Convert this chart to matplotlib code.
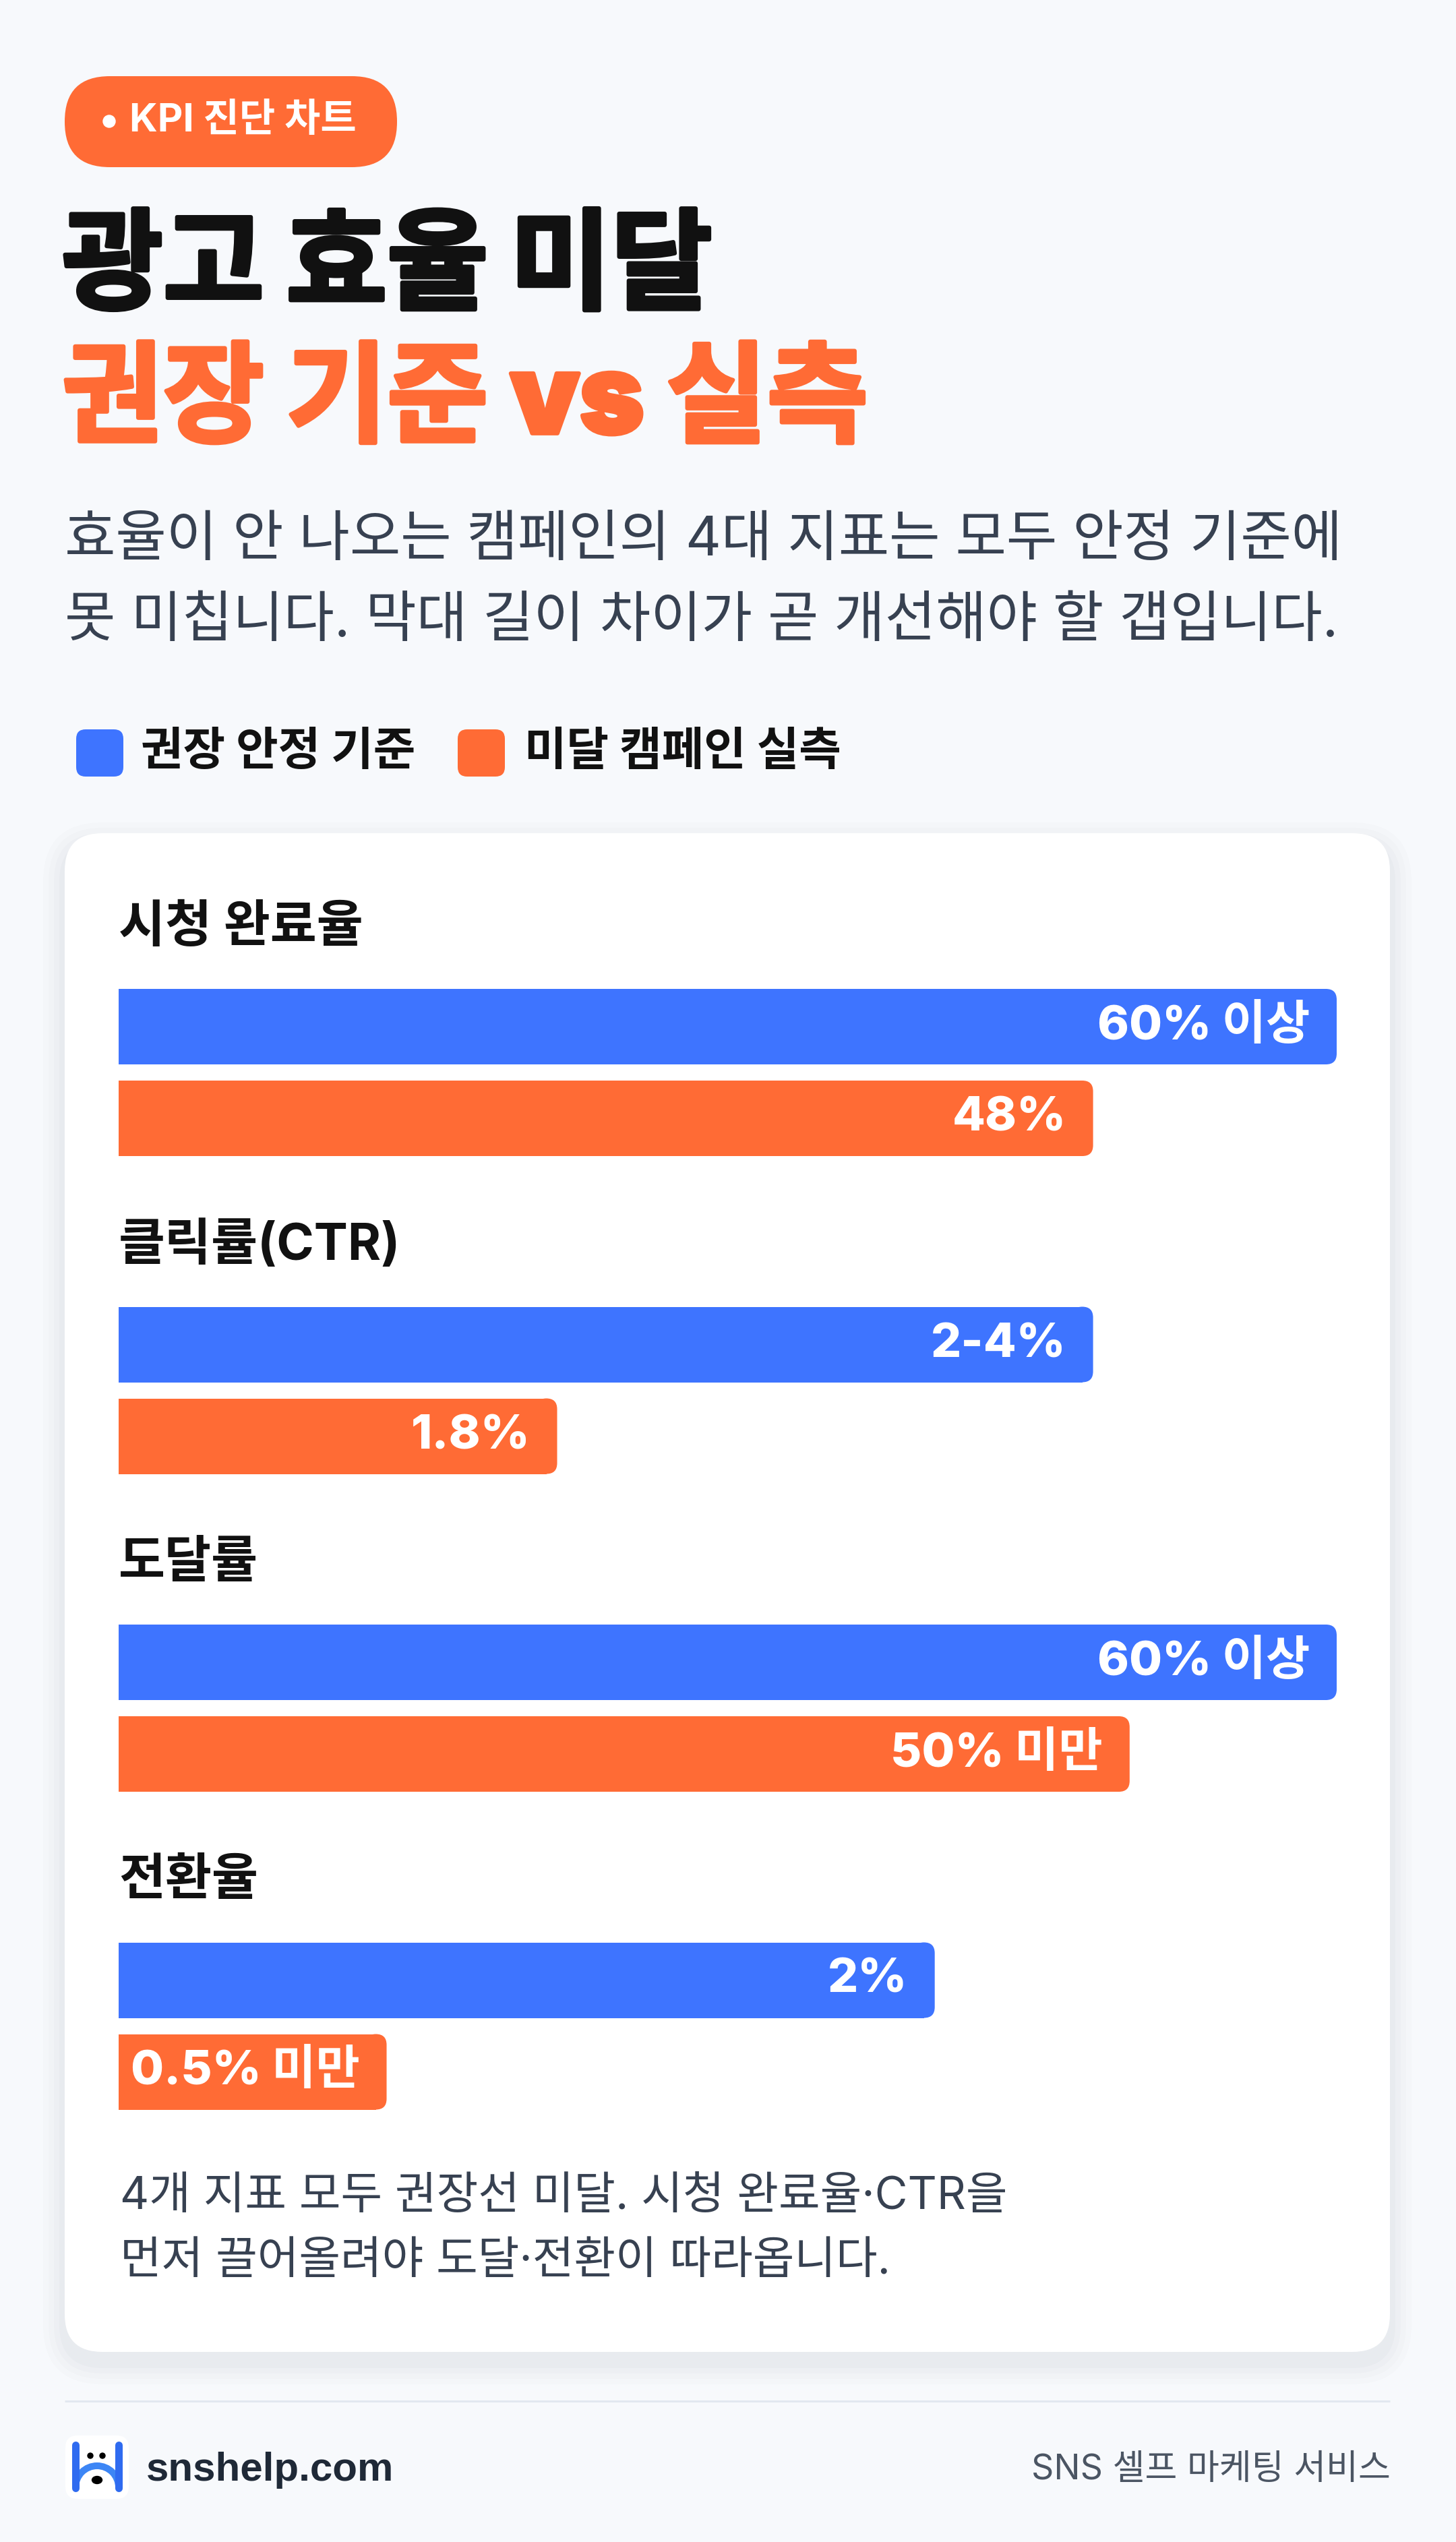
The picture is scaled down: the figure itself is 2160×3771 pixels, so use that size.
import matplotlib.pyplot as plt
import matplotlib.patheffects as pe
from matplotlib.patches import FancyBboxPatch, Circle, Ellipse, Arc

W, H = 2160, 3771
DPI = 100

plt.rcParams['font.family'] = ['Inter', 'Noto Sans CJK KR', 'DejaVu Sans']

# ---- data ----
metrics = ['시청 완료율', '클릭률(CTR)', '도달률', '전환율']
standard_len = [100, 80, 100, 67]     # bar length, % of track
actual_len = [80, 36, 83, 22]
standard_txt = ['60% 이상', '2-4%', '60% 이상', '2%']
actual_txt = ['48%', '1.8%', '50% 미만', '0.5% 미만']
legend_names = ['권장 안정 기준', '미달 캠페인 실측']

BG = '#F7F9FC'
BLUE = '#3E74FF'
ORANGE = '#FF6B35'
INK = '#111111'
BODY = '#374151'


def pt(v):
    # pixel size -> points
    return v * 72 / DPI


fig = plt.figure(figsize=(W / DPI, H / DPI), dpi=DPI)
fig.patch.set_facecolor(BG)
ax = fig.add_axes([0, 0, 1, 1])
ax.set_xlim(0, W)
ax.set_ylim(H, 0)
ax.axis('off')


def rbox(a, x, y, w, h, r, color, **kw):
    p = FancyBboxPatch((x, y), w, h, boxstyle=f'round,pad=0,rounding_size={r}',
                       fc=color, ec='none', **kw)
    a.add_patch(p)
    return p


# badge
rbox(ax, 96, 113, 493, 135, 67, ORANGE)
ax.add_patch(Circle((162, 180), 9, color='white'))
ax.text(192, 180, 'KPI 진단 차트', fontsize=pt(58), weight='bold', color='white', va='center')

# title
for y, txt, col in [(403, '광고 효율 미달', INK), (600, '권장 기준 vs 실측', ORANGE)]:
    ax.text(92, y, txt, fontsize=pt(163), weight='black', color=col, va='center',
            path_effects=[pe.withStroke(linewidth=pt(6), foreground=col)])

# subtitle
ax.text(96, 803, '효율이 안 나오는 캠페인의 4대 지표는 모두 안정 기준에', fontsize=pt(82), color=BODY, va='center')
ax.text(96, 923, '못 미칩니다. 막대 길이 차이가 곧 개선해야 할 갭입니다.', fontsize=pt(82), color=BODY, va='center')

# legend
for (sx, tx), name, col in zip([(113, 209), (679, 778)], legend_names, [BLUE, ORANGE]):
    rbox(ax, sx, 1082, 70, 70, 14, col)
    ax.text(tx, 1117, name, fontsize=pt(68), weight='bold', color=INK, va='center')

# card with soft shadow
for k, a in enumerate([0.012, 0.012, 0.015, 0.02]):
    g = (4 - k) * 8
    rbox(ax, 96 - g, 1236 - g + 16, 1966 + 2 * g, 2253 + 2 * g, 56 + g, '#1E293B', alpha=a)
rbox(ax, 96, 1236, 1966, 2253, 56, 'white')

# bars
x0, x1 = 176, 1983
bx = fig.add_axes([x0 / W, 0, (x1 - x0) / W, 1])
bx.set_xlim(0, 100)
bx.set_ylim(H, 0)
bx.axis('off')
xs = (x1 - x0) / 100.0
row_top0, row_step, bar_h, gap = 1467, 471.5, 112, 136
r = 16 / xs

tops = [row_top0 + i * row_step for i in range(len(metrics))]
for i, name in enumerate(metrics):
    bx.text(0, tops[i] - 90, name, fontsize=pt(75), weight='bold', color=INK, va='center')

for j, (vals, txts, col) in enumerate([(standard_len, standard_txt, BLUE),
                                        (actual_len, actual_txt, ORANGE)]):
    ys = [t + j * gap + bar_h / 2 for t in tops]
    bars = bx.barh(ys, vals, height=bar_h, color=col, linewidth=0)
    for b, txt in zip(bars, txts):
        w = b.get_width()
        b.set_width(w - r)
        bx.add_patch(FancyBboxPatch((w - 2 * r, b.get_y()), 2 * r, b.get_height(),
                                    boxstyle=f'round,pad=0,rounding_size={r}',
                                    mutation_aspect=xs, fc=col, ec='none'))
        bx.annotate(txt, xy=(w, b.get_y() + b.get_height() / 2), xytext=(-pt(40), 0),
                    textcoords='offset points', ha='right', va='center',
                    color='white', weight='heavy', fontsize=pt(71))

# footnote
ax.text(178, 3259, '4개 지표 모두 권장선 미달. 시청 완료율·CTR을', fontsize=pt(67), color=BODY, va='center')
ax.text(178, 3355, '먼저 끌어올려야 도달·전환이 따라옵니다.', fontsize=pt(67), color=BODY, va='center')

# footer
ax.plot([96, 2062], [3562, 3562], color='#E2E8F0', lw=pt(3), solid_capstyle='butt')
rbox(ax, 97, 3613, 94, 94, 18, 'white')
ax.plot([112, 112], [3627, 3691], color='#2F6BF0', lw=pt(11), solid_capstyle='round')
ax.plot([176, 176], [3627, 3691], color='#2F6BF0', lw=pt(11), solid_capstyle='round')
ax.add_patch(Arc((144, 3690), 64, 64, theta1=180, theta2=360, color='#3D86F5', lw=pt(10)))
ax.add_patch(Circle((134, 3643), 4, color='black'))
ax.add_patch(Circle((152, 3643), 4, color='black'))
ax.add_patch(Ellipse((144, 3679), 15, 11, color='black'))
ax.text(217, 3680, 'snshelp.com', family='Liberation Sans', weight='bold', fontsize=pt(60),
        color='#1F2937', va='baseline')
ax.text(2063, 3678, 'SNS 셀프 마케팅 서비스', fontsize=pt(52), color='#4B5563', ha='right', va='baseline')

fig.savefig('out.png', dpi=DPI, facecolor=BG)
